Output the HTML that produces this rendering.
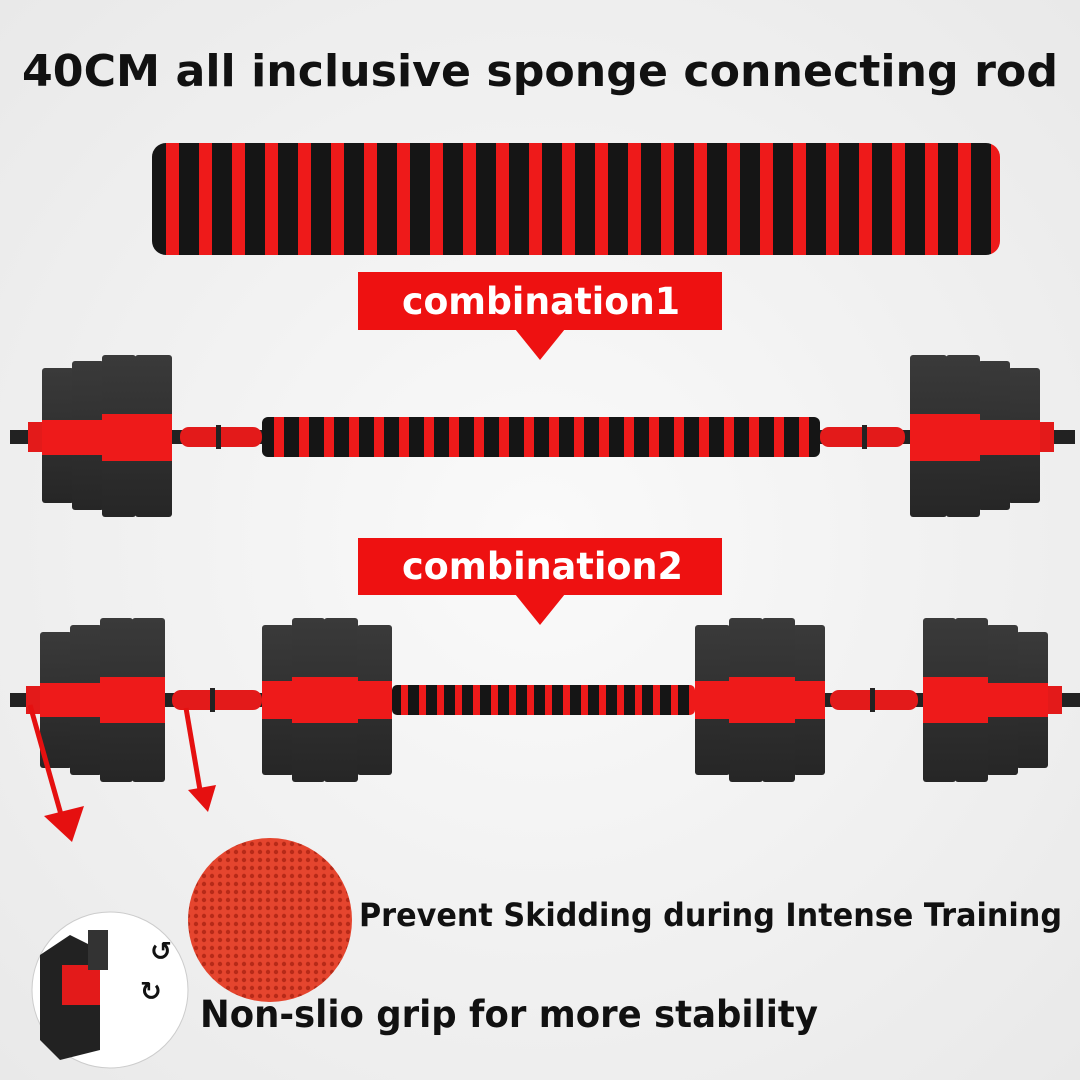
<!DOCTYPE html>
<html><head><meta charset="utf-8"><style>
html,body{margin:0;padding:0;background:#f1f1f1;}
svg{display:block}
text{font-family:"DejaVu Sans","Liberation Sans",sans-serif;font-weight:bold}
</style></head><body>
<svg width="1080" height="1080" viewBox="0 0 1080 1080" xmlns="http://www.w3.org/2000/svg">
<defs>
<radialGradient id="bg" cx="50%" cy="50%" r="70%"><stop offset="0" stop-color="#fafafa"/><stop offset="1" stop-color="#e9e9e9"/></radialGradient>
<pattern id="st1" x="152" y="0" width="33" height="10" patternUnits="userSpaceOnUse"><rect width="33" height="10" fill="#151515"/><rect x="14" width="13" height="10" fill="#ee1a1a"/></pattern>
<pattern id="st2" x="262" y="0" width="25" height="10" patternUnits="userSpaceOnUse"><rect width="25" height="10" fill="#151515"/><rect x="12" width="10" height="10" fill="#ee1a1a"/></pattern>
<pattern id="st3" x="392" y="0" width="18" height="10" patternUnits="userSpaceOnUse"><rect width="18" height="10" fill="#151515"/><rect x="9" width="7" height="10" fill="#ee1a1a"/></pattern>
<pattern id="dots" width="8" height="8" patternUnits="userSpaceOnUse"><rect width="8" height="8" fill="#e5452e"/><circle cx="4" cy="4" r="2.2" fill="#b72a18"/></pattern>
<linearGradient id="pl" x1="0" x2="0" y1="0" y2="1"><stop offset="0" stop-color="#3a3a3a"/><stop offset="1" stop-color="#262626"/></linearGradient>
</defs>
<rect width="1080" height="1080" fill="url(#bg)"/>
<text x="22" y="86" font-size="44" textLength="1036" lengthAdjust="spacingAndGlyphs" fill="#111">40CM all inclusive sponge connecting rod</text>

<rect x="152" y="143" width="848" height="112" rx="14" fill="url(#st1)"/>

<rect x="358" y="272" width="364" height="58" fill="#ee1111"/>
<polygon points="515,329 565,329 540,360" fill="#ee1111"/>
<text x="402" y="314" font-size="37" textLength="278" lengthAdjust="spacingAndGlyphs" fill="#fff">combination1</text>

<rect x="10" y="430" width="1065" height="14" fill="#222"/>
<rect x="180" y="427" width="82" height="20" rx="9" fill="#e31a1a"/>
<rect x="820" y="427" width="85" height="20" rx="9" fill="#e31a1a"/>
<rect x="216" y="425" width="5" height="24" fill="#222"/><rect x="862" y="425" width="5" height="24" fill="#222"/>
<rect x="28" y="422" width="14" height="30" fill="#e31a1a"/>
<rect x="1040" y="422" width="14" height="30" fill="#e31a1a"/>
<rect x="262" y="417" width="558" height="40" rx="6" fill="url(#st2)"/>
<g id="g1">
<rect x="42" y="368" width="32" height="135" rx="3" fill="url(#pl)"/>
<rect x="72" y="361" width="32" height="149" rx="3" fill="url(#pl)"/>
<rect x="102" y="355" width="34" height="162" rx="3" fill="url(#pl)"/>
<rect x="135" y="355" width="37" height="162" rx="3" fill="url(#pl)"/>
<rect x="42" y="420" width="60" height="35" fill="#ee1a1a"/>
<rect x="102" y="414" width="70" height="47" fill="#ee1a1a"/>
</g>
<use href="#g1" transform="translate(1082,0) scale(-1,1)"/>

<rect x="358" y="538" width="364" height="57" fill="#ee1111"/>
<polygon points="515,594 565,594 540,625" fill="#ee1111"/>
<text x="402" y="579" font-size="37" textLength="281" lengthAdjust="spacingAndGlyphs" fill="#fff">combination2</text>

<rect x="10" y="693" width="1070" height="14" fill="#222"/>
<rect x="172" y="690" width="90" height="20" rx="9" fill="#e31a1a"/>
<rect x="830" y="690" width="88" height="20" rx="9" fill="#e31a1a"/>
<rect x="210" y="688" width="5" height="24" fill="#222"/><rect x="870" y="688" width="5" height="24" fill="#222"/>
<rect x="26" y="686" width="14" height="28" fill="#e31a1a"/>
<rect x="1048" y="686" width="14" height="28" fill="#e31a1a"/>
<rect x="392" y="685" width="303" height="30" rx="5" fill="url(#st3)"/>
<g id="g2">
<rect x="40" y="632" width="32" height="136" rx="3" fill="url(#pl)"/>
<rect x="70" y="625" width="32" height="150" rx="3" fill="url(#pl)"/>
<rect x="100" y="618" width="33" height="164" rx="3" fill="url(#pl)"/>
<rect x="132" y="618" width="33" height="164" rx="3" fill="url(#pl)"/>
<rect x="40" y="683" width="60" height="34" fill="#ee1a1a"/>
<rect x="100" y="677" width="65" height="46" fill="#ee1a1a"/>
</g>
<g id="g3">
<rect x="262" y="625" width="32" height="150" rx="3" fill="url(#pl)"/>
<rect x="292" y="618" width="33" height="164" rx="3" fill="url(#pl)"/>
<rect x="324" y="618" width="34" height="164" rx="3" fill="url(#pl)"/>
<rect x="357" y="625" width="35" height="150" rx="3" fill="url(#pl)"/>
<rect x="262" y="681" width="130" height="38" fill="#ee1a1a"/>
<rect x="292" y="677" width="66" height="46" fill="#ee1a1a"/>
</g>
<use href="#g3" transform="translate(1087,0) scale(-1,1)"/>
<use href="#g2" transform="translate(1088,0) scale(-1,1)"/>

<line x1="30" y1="705" x2="62" y2="818" stroke="#e51010" stroke-width="5"/>
<polygon points="44,816 84,806 72,842" fill="#e51010"/>
<line x1="186" y1="708" x2="200" y2="790" stroke="#e51010" stroke-width="5"/>
<polygon points="188,790 216,785 208,812" fill="#e51010"/>

<circle cx="270" cy="920" r="82" fill="url(#dots)"/>
<circle cx="110" cy="990" r="78" fill="#fff" stroke="#ccc"/>
<polygon points="40,955 70,935 100,950 100,1050 60,1060 40,1040" fill="#222"/>
<rect x="62" y="965" width="38" height="40" fill="#e31a1a"/>
<rect x="88" y="930" width="20" height="40" fill="#333"/>
<text x="150" y="960" font-size="26" fill="#111">↺</text>
<text x="140" y="1000" font-size="26" fill="#111">↻</text>

<text x="359" y="926" font-size="32" textLength="703" lengthAdjust="spacingAndGlyphs" fill="#111">Prevent Skidding during Intense Training</text>
<text x="200" y="1027" font-size="37" textLength="618" lengthAdjust="spacingAndGlyphs" fill="#111">Non-slio grip for more stability</text>
</svg>
</body></html>
